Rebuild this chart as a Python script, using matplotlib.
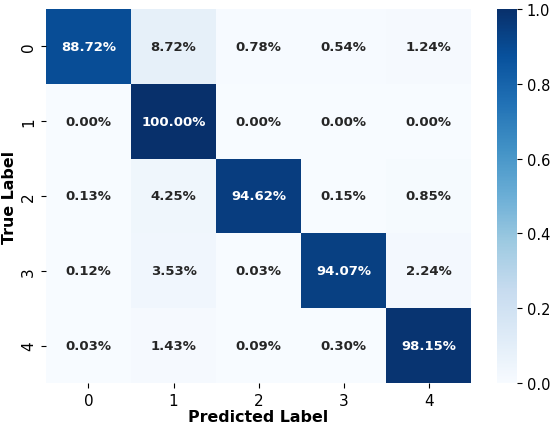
import matplotlib
matplotlib.use("Agg")
import matplotlib.pyplot as plt
import seaborn as sns
import numpy as np

labels = ["0", "1", "2", "3", "4"]
row0 = [88.72, 8.72, 0.78, 0.54, 1.24]
row1 = [0.00, 100.00, 0.00, 0.00, 0.00]
row2 = [0.13, 4.25, 94.62, 0.15, 0.85]
row3 = [0.12, 3.53, 0.03, 94.07, 2.24]
row4 = [0.03, 1.43, 0.09, 0.30, 98.15]

cm = np.array([row0, row1, row2, row3, row4]) / 100.0
annot = np.array([[f"{v*100:.2f}%" for v in r] for r in cm])

fig = plt.figure(figsize=(5.5, 4.27), dpi=100)
ax = fig.add_axes([0.0836, 0.1007, 0.773, 0.876])
cax = fig.add_axes([0.9036, 0.1007, 0.036, 0.876])
sns.heatmap(cm, annot=annot, fmt="", cmap="Blues", vmin=0, vmax=1,
            ax=ax, cbar_ax=cax, xticklabels=labels, yticklabels=labels,
            annot_kws={"fontsize": 9.5, "fontweight": "bold"})
ax.set_xlabel("Predicted Label", fontsize=11.4, fontweight="bold", labelpad=1)
ax.set_ylabel("True Label", fontsize=11.4, fontweight="bold", labelpad=3)
ax.tick_params(axis="both", labelsize=11)
cax.tick_params(labelsize=10.5)
fig.savefig("out.png", dpi=100)
